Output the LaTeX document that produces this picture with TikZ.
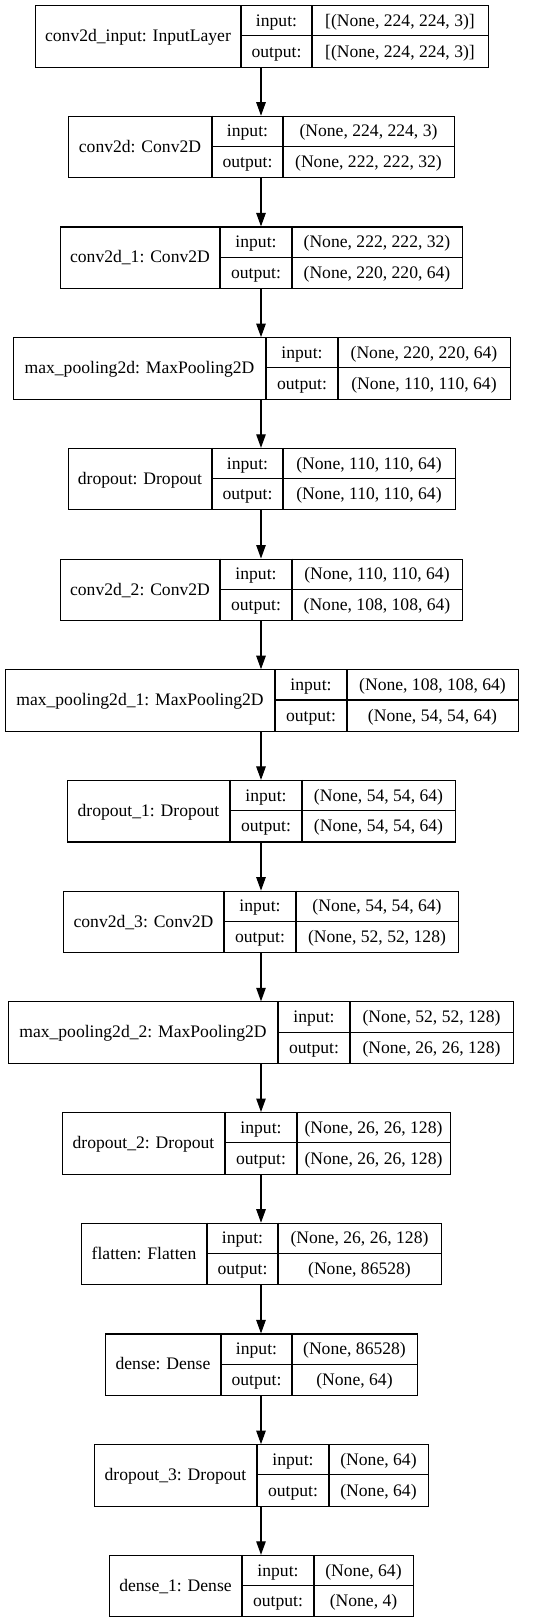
\documentclass[tikz,border=0pt]{standalone}
\usepackage{fontspec}
\setmainfont{Liberation Serif}
\usetikzlibrary{arrows.meta}
\newcommand{\klH}{61.5}
\tikzset{
  layerbox/.style={draw=black, line width=1.1pt, inner sep=0pt, minimum height=\klH pt},
  cellline/.style={draw=black, line width=1.1pt},
  txt/.style={font=\fontsize{17.6}{20}\selectfont, anchor=base, inner sep=0pt},
  flow/.style={draw=black, line width=1.1pt, -{Triangle[length=13.5pt,width=9.5pt]}}
}
\newcommand{\kerasLayer}[9]{%
  \pgfmathsetmacro{\klW}{#6-#3}%
  \node[layerbox, minimum width=\klW pt, anchor=north west] (#1) at (#3,#2) {};
  \draw[cellline] (#4,#2) -- (#4,{#2+\klH});
  \draw[cellline] (#5,#2) -- (#5,{#2+\klH});
  \draw[cellline] (#4,{#2+\klH/2}) -- (#6,{#2+\klH/2});
  \node[txt] (#1-name) at ({(#3+#4)/2},{#2+\klH/2+5.8}) {#7};
  \node[txt] (#1-ik) at ({(#4+#5)/2},{#2+\klH/4+5.9}) {input:};
  \node[txt] (#1-ok) at ({(#4+#5)/2},{#2+3*\klH/4+5.9}) {output:};
  \node[txt] (#1-iv) at ({(#5+#6)/2},{#2+\klH/4+5.9}) {#8};
  \node[txt] (#1-ov) at ({(#5+#6)/2},{#2+3*\klH/4+5.9}) {#9};
}
\begin{document}
\begin{tikzpicture}[x=1pt,y=-1pt]
\useasboundingbox (0,0) rectangle (535,1623);
\fill[white] (0,0) rectangle (535,1623);
\coordinate (axis) at (261,0);
\kerasLayer{b1}{5}{35}{241}{312}{488}{conv2d\_input: InputLayer}{[(None, 224, 224, 3)]}{[(None, 224, 224, 3)]}
\kerasLayer{b2}{115.7}{68}{212}{283}{454}{conv2d: Conv2D}{(None, 224, 224, 3)}{(None, 222, 222, 32)}
\kerasLayer{b3}{226.4}{60}{220}{292}{462}{conv2d\_1: Conv2D}{(None, 222, 222, 32)}{(None, 220, 220, 64)}
\kerasLayer{b4}{337.1}{13}{266}{338}{510}{max\_pooling2d: MaxPooling2D}{(None, 220, 220, 64)}{(None, 110, 110, 64)}
\kerasLayer{b5}{447.8}{68}{212}{283}{455}{dropout: Dropout}{(None, 110, 110, 64)}{(None, 110, 110, 64)}
\kerasLayer{b6}{558.5}{60}{220}{292}{462}{conv2d\_2: Conv2D}{(None, 110, 110, 64)}{(None, 108, 108, 64)}
\kerasLayer{b7}{669.2}{5}{275}{347}{518}{max\_pooling2d\_1: MaxPooling2D}{(None, 108, 108, 64)}{(None, 54, 54, 64)}
\kerasLayer{b8}{779.9}{67}{230}{302}{455}{dropout\_1: Dropout}{(None, 54, 54, 64)}{(None, 54, 54, 64)}
\kerasLayer{b9}{890.6}{63}{224}{296}{458}{conv2d\_3: Conv2D}{(None, 54, 54, 64)}{(None, 52, 52, 128)}
\kerasLayer{b10}{1001.3}{8}{278}{350}{513}{max\_pooling2d\_2: MaxPooling2D}{(None, 52, 52, 128)}{(None, 26, 26, 128)}
\kerasLayer{b11}{1112}{62}{225}{297}{450}{dropout\_2: Dropout}{(None, 26, 26, 128)}{(None, 26, 26, 128)}
\kerasLayer{b12}{1222.7}{81}{207}{278}{441}{flatten: Flatten}{(None, 26, 26, 128)}{(None, 86528)}
\kerasLayer{b13}{1333.4}{105}{221}{292}{417}{dense: Dense}{(None, 86528)}{(None, 64)}
\kerasLayer{b14}{1444.1}{94}{257}{329}{428}{dropout\_3: Dropout}{(None, 64)}{(None, 64)}
\kerasLayer{b15}{1554.8}{109}{242}{314}{413}{dense\_1: Dense}{(None, 64)}{(None, 4)}
\foreach \a/\b in {b1/b2,b2/b3,b3/b4,b4/b5,b5/b6,b6/b7,b7/b8,b8/b9,b9/b10,b10/b11,b11/b12,b12/b13,b13/b14,b14/b15}
  \draw[flow] (axis |- \a.south) -- (axis |- \b.north);
\end{tikzpicture}
\end{document}
